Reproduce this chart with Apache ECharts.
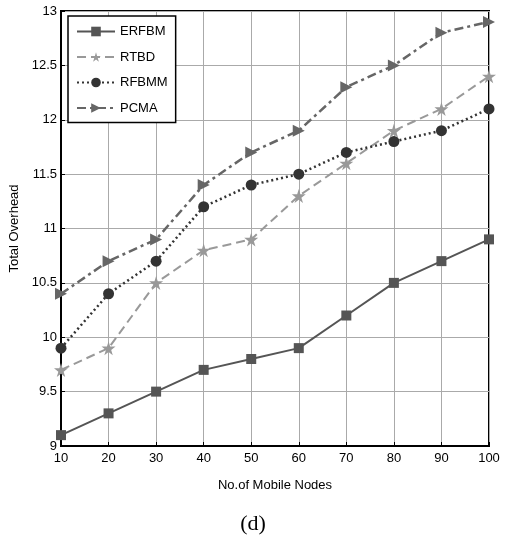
<!DOCTYPE html>
<html><head><meta charset="utf-8">
<script src="https://cdn.jsdelivr.net/npm/echarts@6/dist/echarts.min.js"></script>
<style>html,body{margin:0;padding:0;background:#fff;}#c{width:506px;height:543px;}</style>
</head><body><div id="c"></div>
<script>
const categories = [10,20,30,40,50,60,70,80,90,100];
const erfbm = [9.1,9.3,9.5,9.7,9.8,9.9,10.2,10.5,10.7,10.9];
const rtbd  = [9.7,9.9,10.5,10.8,10.9,11.3,11.6,11.9,12.1,12.4];
const rfbmm = [9.9,10.4,10.7,11.2,11.4,11.5,11.7,11.8,11.9,12.1];
const pcma  = [10.4,10.7,10.9,11.4,11.7,11.9,12.3,12.5,12.8,12.9];
const pair = a => a.map((v,i)=>[categories[i],v]);
const chart = echarts.init(document.getElementById('c'));
const font = '"Liberation Sans", sans-serif';
chart.setOption({
  animation:false,
  backgroundColor:'#fff',
  grid:{left:61,right:17,top:11,bottom:97,show:true,borderColor:'#000',borderWidth:2,outerBoundsMode:'none',containLabel:false},
  legend:{
    left:68, top:16, orient:'vertical', itemGap:12.5, itemWidth:38, itemHeight:12,
    backgroundColor:'#fff', borderColor:'#000', borderWidth:1.5,
    padding:[9,8,8,8],
    textStyle:{fontFamily:font,fontSize:13,color:'#000'},
    data:['ERFBM','RTBD','RFBMM','PCMA']
  },
  xAxis:{type:'value',min:10,max:100,interval:10,
    axisLine:{lineStyle:{color:'#000',width:2}},
    axisTick:{inside:true,length:4,lineStyle:{color:'#000'}},
    axisLabel:{fontFamily:font,fontSize:13,color:'#000',margin:6},
    splitLine:{show:true,lineStyle:{color:'#aaa',width:1}},
    name:'No.of Mobile Nodes',nameLocation:'middle',nameGap:33,
    nameTextStyle:{fontFamily:font,fontSize:13,color:'#000'}
  },
  yAxis:{type:'value',min:9,max:13,interval:0.5,
    axisLine:{show:true,lineStyle:{color:'#000',width:2}},
    axisTick:{show:true,inside:true,length:4,lineStyle:{color:'#000'}},
    axisLabel:{fontFamily:font,fontSize:13,color:'#000',margin:4},
    splitLine:{show:true,lineStyle:{color:'#aaa',width:1}},
    name:'Total Overhead',nameLocation:'middle',nameGap:36,
    nameTextStyle:{fontFamily:font,fontSize:13,color:'#000'}
  },
  graphic:[
    {type:'text',left:'center',top:513,style:{text:'(d)',font:'22px "Liberation Serif"',fill:'#000'}}
  ],
  series:[
    {name:'ERFBM',type:'line',data:pair(erfbm),symbol:'rect',symbolSize:10,
      lineStyle:{color:'#555',width:2,type:'solid'},itemStyle:{color:'#555'}},
    {name:'RTBD',type:'line',data:pair(rtbd),symbol:'path://M50,0 L61,35 L98,35 L68,57 L79,91 L50,70 L21,91 L32,57 L2,35 L39,35 Z',symbolSize:14,
      lineStyle:{color:'#999',width:2,type:[9,5]},itemStyle:{color:'#999'}},
    {name:'RFBMM',type:'line',data:pair(rfbmm),symbol:'circle',symbolSize:11,
      lineStyle:{color:'#333',width:2.5,type:[2,3]},itemStyle:{color:'#333'}},
    {name:'PCMA',type:'line',data:pair(pcma),symbol:'triangle',symbolRotate:-90,symbolSize:12,
      lineStyle:{color:'#666',width:2.5,type:[9,4,3,4]},itemStyle:{color:'#666'}}
  ]
});
</script></body></html>
